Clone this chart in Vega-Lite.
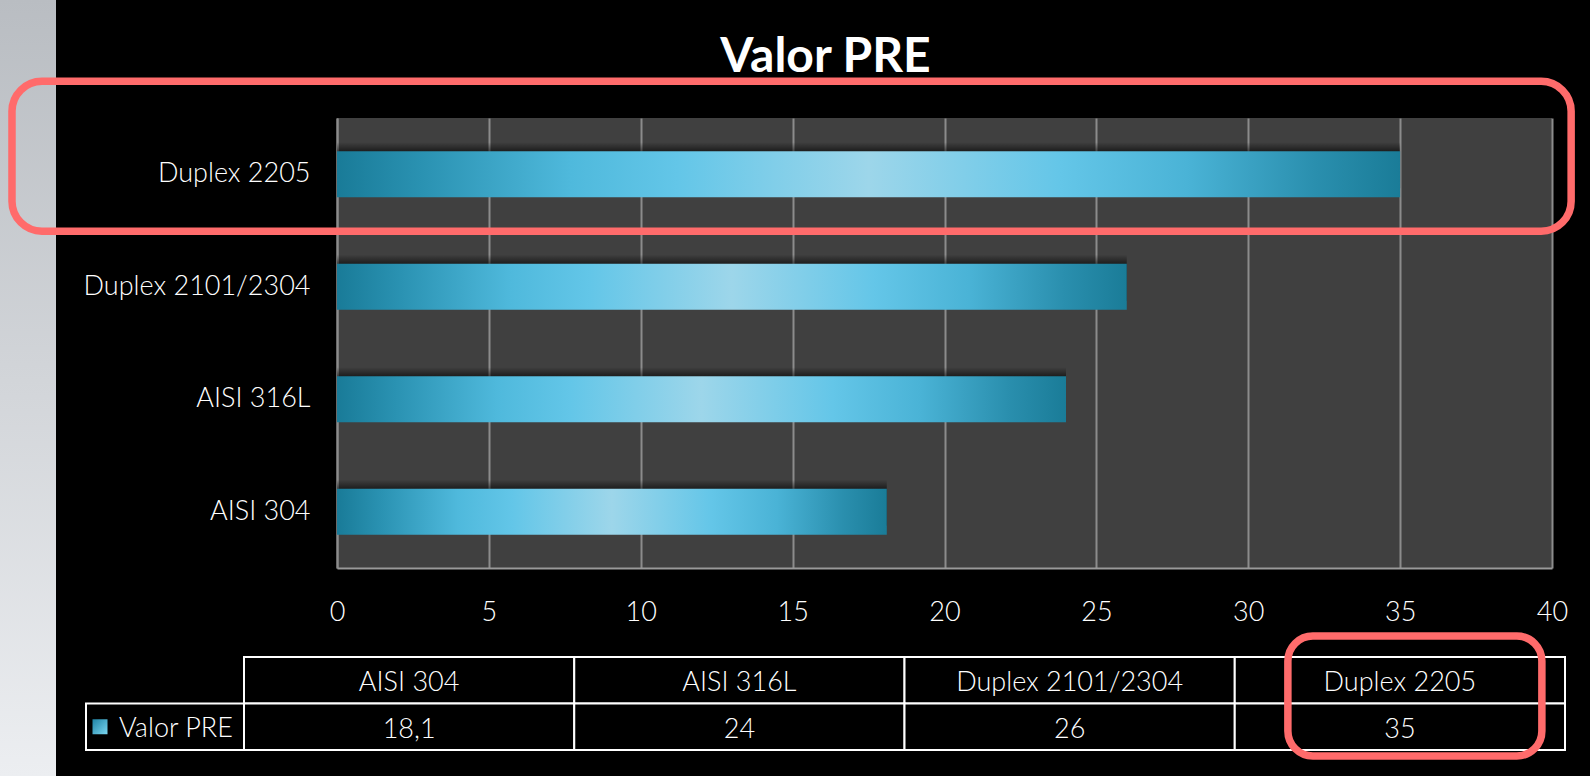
{
  "$schema": "https://vega.github.io/schema/vega-lite/v6.json",
  "background": "#000000",
  "padding": {"left": 0, "top": 0, "right": 15, "bottom": 0},
  "config": {
    "view": {"stroke": null},
    "font": "Lato",
    "locale": {"number": {"decimal": ",", "thousands": ".", "grouping": [3], "currency": ["", "€"]}}
  },
  "datasets": {
    "pre": [
      {"material": "AISI 304", "pre": 18.1},
      {"material": "AISI 316L", "pre": 24},
      {"material": "Duplex 2101/2304", "pre": 26},
      {"material": "Duplex 2205", "pre": 35}
    ],
    "highlight": [{"material": "Duplex 2205"}],
    "series": [{"series": "Valor PRE"}],
    "heading": [{"title": "Valor PRE"}]
  },
  "bounds": "flush",
  "spacing": 30,
  "hconcat": [
    {
      "width": 56,
      "height": 776,
      "data": {"values": []},
      "mark": "point",
      "view": {
        "stroke": null,
        "fill": {"gradient": "linear", "x1": 0, "y1": 0, "x2": 0, "y2": 1,
          "stops": [{"offset": 0, "color": "#b9bdc2"}, {"offset": 1, "color": "#eceef1"}]}
      }
    },
    {
      "bounds": "flush",
      "spacing": 657,
      "vconcat": [
        {
          "bounds": "flush",
          "spacing": 6,
          "vconcat": [
            {
              "width": 1479,
              "height": 112,
              "data": {"name": "heading"},
              "mark": {"type": "text", "fontSize": 48, "fontWeight": "bold", "color": "#ffffff", "font": "Lato", "dy": 2},
              "encoding": {"text": {"field": "title", "type": "nominal"}}
            },
            {
              "bounds": "flush",
              "spacing": 0,
              "hconcat": [
                {
                  "width": 251,
                  "height": 450,
                  "data": {"values": []},
                  "mark": "point"
                },
                {
                  "width": 1215,
                  "height": 450,
                  "view": {"fill": "#404040", "stroke": null},
                  "data": {"name": "pre"},
                  "layer": [
                    {
                      "mark": {
                        "type": "bar",
                        "yOffset": -9,
                        "color": {"gradient": "linear", "x1": 0, "y1": 0, "x2": 0, "y2": 1,
                          "stops": [
                            {"offset": 0, "color": "rgba(0,0,0,0)"},
                            {"offset": 0.2, "color": "rgba(0,0,0,0.55)"},
                            {"offset": 1, "color": "rgba(0,0,0,0.55)"}
                          ]}
                      },
                      "encoding": {
                        "x": {
                          "field": "pre", "type": "quantitative",
                          "scale": {"domain": [0, 40], "nice": false, "zero": true},
                          "axis": {
                            "values": [0, 5, 10, 15, 20, 25, 30, 35, 40],
                            "title": null,
                            "grid": true, "gridColor": "#8c8c8c", "gridWidth": 2,
                            "domain": true, "domainColor": "#9a9a9a", "domainWidth": 2,
                            "ticks": false, "tickSize": 0,
                            "labelFlush": false, "labelOverlap": false,
                            "labelPadding": 31, "labelFontSize": 27, "labelFontWeight": 300,
                            "labelColor": "#ffffff", "labelFont": "Lato"
                          }
                        },
                        "y": {
                          "field": "material", "type": "nominal",
                          "sort": ["Duplex 2205", "Duplex 2101/2304", "AISI 316L", "AISI 304"],
                          "scale": {"paddingInner": 0.59, "paddingOuter": 0.295},
                          "axis": {
                            "title": null,
                            "domain": true, "domainColor": "#8c8c8c", "domainWidth": 2,
                            "ticks": false, "tickSize": 0,
                            "labelPadding": 27, "labelFontSize": 27, "labelFontWeight": 300,
                            "labelColor": "#ffffff", "labelFont": "Lato",
                            "labelLimit": 400
                          }
                        }
                      }
                    },
                    {
                      "mark": {
                        "type": "bar",
                        "color": {"gradient": "linear", "x1": 0, "y1": 0, "x2": 1, "y2": 0,
                          "stops": [
                            {"offset": 0, "color": "#197b98"},
                            {"offset": 0.08, "color": "#2a92b2"},
                            {"offset": 0.22, "color": "#4fb9dc"},
                            {"offset": 0.32, "color": "#63c6e8"},
                            {"offset": 0.5, "color": "#9dd6ea"},
                            {"offset": 0.68, "color": "#64c6e8"},
                            {"offset": 0.8, "color": "#4ab3d6"},
                            {"offset": 0.92, "color": "#2a8fae"},
                            {"offset": 1, "color": "#1a7c98"}
                          ]}
                      },
                      "encoding": {
                        "x": {"field": "pre", "type": "quantitative"},
                        "y": {"field": "material", "type": "nominal",
                          "sort": ["Duplex 2205", "Duplex 2101/2304", "AISI 316L", "AISI 304"]}
                      }
                    },
                    {
                      "data": {"name": "highlight"},
                      "mark": {
                        "type": "bar", "height": 150, "yOffset": -18,
                        "fill": "transparent", "stroke": "#ff6b6b", "strokeWidth": 7.5, "cornerRadius": 30
                      },
                      "encoding": {
                        "x": {"datum": -10.7, "type": "quantitative"},
                        "x2": {"datum": 40.63},
                        "y": {"field": "material", "type": "nominal",
                          "sort": ["Duplex 2205", "Duplex 2101/2304", "AISI 316L", "AISI 304"]}
                      }
                    }
                  ]
                }
              ]
            }
          ]
        },
        {
          "bounds": "flush",
          "spacing": 0,
          "hconcat": [
            {
              "width": 158,
              "height": 93,
              "data": {"name": "series"},
              "layer": [
                {
                  "mark": {"type": "rect", "fill": "#000000", "stroke": "#ffffff", "strokeWidth": 2},
                  "encoding": {
                    "y": {"datum": "v", "type": "nominal",
                      "scale": {"domain": ["h", "v"], "paddingInner": 0, "paddingOuter": 0}, "axis": null}
                  }
                },
                {
                  "mark": {"type": "text", "color": "#ffffff", "fontSize": 27, "fontWeight": 300, "font": "Lato", "dx": 11, "dy": 2},
                  "encoding": {
                    "y": {"datum": "v", "type": "nominal"},
                    "text": {"field": "series", "type": "nominal"}
                  }
                },
                {
                  "mark": {
                    "type": "square", "size": 225, "xOffset": -65, "opacity": 1,
                    "fill": {"gradient": "linear", "x1": 0, "y1": 0, "x2": 1, "y2": 1,
                      "stops": [{"offset": 0, "color": "#1f84a6"}, {"offset": 1, "color": "#7bd6f0"}]}
                  },
                  "encoding": {"y": {"datum": "v", "type": "nominal"}}
                }
              ]
            },
            {
              "width": 1321,
              "height": 93,
              "data": {"name": "pre"},
              "encoding": {
                "x": {"field": "material", "type": "nominal",
                  "sort": ["AISI 304", "AISI 316L", "Duplex 2101/2304", "Duplex 2205"],
                  "scale": {"paddingInner": 0, "paddingOuter": 0}, "axis": null}
              },
              "layer": [
                {
                  "mark": {"type": "rect", "fill": "#000000", "stroke": "#ffffff", "strokeWidth": 2},
                  "encoding": {
                    "y": {"datum": "h", "type": "nominal",
                      "scale": {"domain": ["h", "v"], "paddingInner": 0, "paddingOuter": 0}, "axis": null}
                  }
                },
                {
                  "mark": {"type": "rect", "fill": "#000000", "stroke": "#ffffff", "strokeWidth": 2},
                  "encoding": {"y": {"datum": "v", "type": "nominal"}}
                },
                {
                  "mark": {"type": "text", "color": "#ffffff", "fontSize": 27, "fontWeight": 300, "font": "Lato", "dy": 3},
                  "encoding": {
                    "y": {"datum": "h", "type": "nominal"},
                    "text": {"field": "material", "type": "nominal"}
                  }
                },
                {
                  "mark": {"type": "text", "color": "#ffffff", "fontSize": 27, "fontWeight": 300, "font": "Lato", "dy": 3},
                  "encoding": {
                    "y": {"datum": "v", "type": "nominal"},
                    "text": {"field": "pre", "type": "quantitative", "format": ".3~g"}
                  }
                },
                {
                  "data": {"name": "highlight"},
                  "mark": {
                    "type": "bar", "width": 254, "xOffset": 15, "yOffset": -44.25, "y2Offset": 29.25,
                    "fill": "transparent", "stroke": "#ff6b6b", "strokeWidth": 7.5, "cornerRadius": 25
                  },
                  "encoding": {
                    "x": {"field": "material", "type": "nominal",
                      "sort": ["AISI 304", "AISI 316L", "Duplex 2101/2304", "Duplex 2205"]},
                    "y": {"datum": "h", "type": "nominal"},
                    "y2": {"datum": "v"}
                  }
                }
              ]
            }
          ]
        }
      ]
    }
  ]
}
